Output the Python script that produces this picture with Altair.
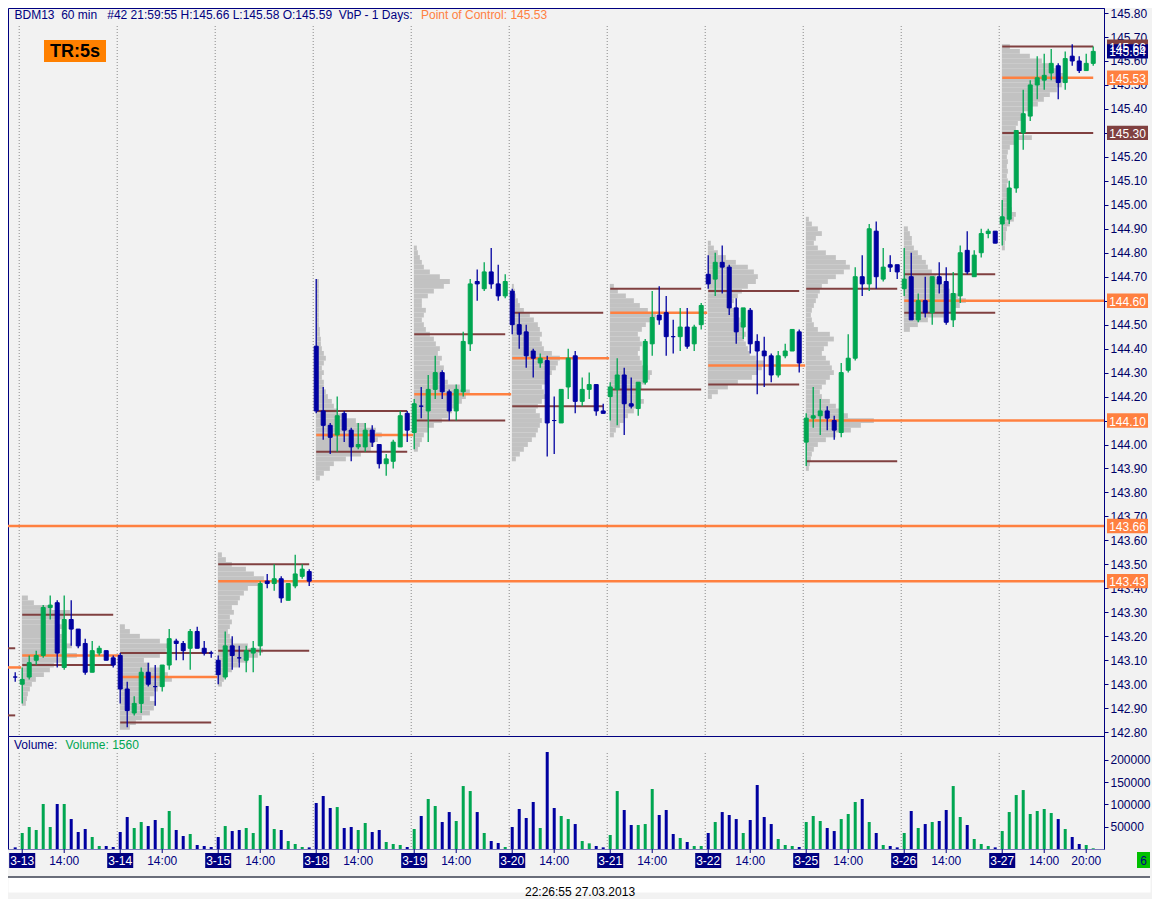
import altair as alt
import pandas as pd

FONT = "Liberation Sans"
UP = "#00A651"
DOWN = "#0000A0"
NAVY = "#000080"
ORANGE = "#FF8040"
BROWN = "#804040"
PROFILE_GREY = "#C2C2C2"
BG = "#F2F2F2"

# ---------------- data ----------------
DAYS = ["3-13", "3-14", "3-15", "3-18", "3-19", "3-20", "3-21", "3-22", "3-25", "3-26", "3-27"]

# last hourly bar of 3-12 (21:00)
PREV_BAR = dict(o=143.03, h=143.05, l=143.01, c=143.03, v=3700, d="d")

# 14 hourly bars per day, 08:00 ... 21:00
OPEN = [
    [143.00, 143.03, 143.10, 143.12, 143.32, 143.34, 143.07, 143.27, 143.23, 143.17, 143.05, 143.13, 143.14, 143.11],
    [143.12, 142.98, 142.88, 142.92, 143.05, 142.99, 142.99, 143.08, 143.18, 143.17, 143.15, 143.22, 143.15, 143.13],
    [143.10, 143.03, 143.16, 143.11, 143.10, 143.13, 143.16, 143.43, 143.42, 143.44, 143.35, 143.41, 143.45, 143.47],
    [144.41, 144.14, 144.08, 144.04, 144.13, 144.06, 143.99, 143.99, 144.06, 144.00, 143.92, 143.93, 143.99, 144.13],
    [144.05, 144.16, 144.14, 144.23, 144.30, 144.22, 144.14, 144.22, 144.42, 144.68, 144.65, 144.72, 144.67, 144.62],
    [144.64, 144.50, 144.47, 144.39, 144.34, 144.35, 144.10, 144.09, 144.24, 144.37, 144.18, 144.23, 144.25, 144.14],
    [144.20, 144.23, 144.29, 144.17, 144.15, 144.26, 144.42, 144.54, 144.55, 144.45, 144.45, 144.49, 144.42, 144.50],
    [144.71, 144.69, 144.76, 144.74, 144.57, 144.49, 144.56, 144.43, 144.39, 144.37, 144.29, 144.37, 144.39, 144.47],
    [144.01, 144.11, 144.12, 144.14, 144.10, 144.05, 144.31, 144.36, 144.70, 144.67, 144.89, 144.69, 144.75, 144.75],
    [144.65, 144.70, 144.52, 144.60, 144.55, 144.70, 144.68, 144.52, 144.62, 144.81, 144.70, 144.80, 144.88, 144.89],
    [144.92, 144.94, 145.07, 145.30, 145.37, 145.50, 145.52, 145.55, 145.58, 145.51, 145.62, 145.60, 145.56, 145.59],
]
HIGH = [
    [143.07, 143.12, 143.14, 143.33, 143.37, 143.35, 143.37, 143.35, 143.23, 143.19, 143.18, 143.16, 143.14, 143.12],
    [143.13, 143.01, 142.95, 143.07, 143.09, 143.08, 143.08, 143.23, 143.19, 143.18, 143.23, 143.24, 143.18, 143.14],
    [143.12, 143.22, 143.20, 143.16, 143.16, 143.18, 143.43, 143.46, 143.50, 143.45, 143.42, 143.54, 143.50, 143.48],
    [144.69, 144.24, 144.09, 144.20, 144.14, 144.07, 144.09, 144.09, 144.08, 144.00, 143.96, 144.02, 144.14, 144.14],
    [144.19, 144.24, 144.29, 144.37, 144.31, 144.23, 144.25, 144.47, 144.69, 144.73, 144.76, 144.82, 144.75, 144.71],
    [144.65, 144.55, 144.50, 144.40, 144.38, 144.37, 144.20, 144.23, 144.40, 144.39, 144.28, 144.30, 144.25, 144.17],
    [144.26, 144.36, 144.32, 144.28, 144.26, 144.44, 144.64, 144.66, 144.62, 144.52, 144.57, 144.57, 144.50, 144.59],
    [144.79, 144.80, 144.83, 144.75, 144.61, 144.57, 144.57, 144.46, 144.45, 144.38, 144.39, 144.42, 144.48, 144.48],
    [144.13, 144.24, 144.19, 144.16, 144.12, 144.34, 144.46, 144.74, 144.79, 144.92, 144.93, 144.82, 144.79, 144.75],
    [144.82, 144.80, 144.63, 144.70, 144.70, 144.76, 144.74, 144.72, 144.83, 144.89, 144.81, 144.90, 144.90, 144.89],
    [145.02, 145.10, 145.31, 145.48, 145.52, 145.62, 145.63, 145.65, 145.59, 145.64, 145.67, 145.62, 145.63, 145.66],
]
LOW = [
    [142.92, 143.02, 143.08, 143.11, 143.27, 143.07, 143.06, 143.16, 143.15, 143.04, 143.05, 143.12, 143.10, 143.07],
    [142.92, 142.82, 142.87, 142.88, 142.99, 142.91, 142.97, 143.06, 143.10, 143.10, 143.06, 143.15, 143.12, 143.11],
    [143.00, 143.02, 143.06, 143.07, 143.05, 143.05, 143.12, 143.40, 143.39, 143.34, 143.35, 143.40, 143.44, 143.41],
    [144.13, 144.02, 143.96, 143.97, 144.01, 143.93, 143.98, 143.97, 143.99, 143.90, 143.87, 143.90, 143.99, 144.01],
    [143.98, 144.11, 144.01, 144.19, 144.19, 144.10, 144.10, 144.20, 144.39, 144.60, 144.64, 144.65, 144.60, 144.61],
    [144.46, 144.40, 144.32, 144.28, 144.32, 143.95, 143.96, 144.09, 144.19, 144.13, 144.16, 144.19, 144.12, 144.13],
    [144.10, 144.08, 144.04, 144.15, 144.12, 144.25, 144.37, 144.50, 144.37, 144.38, 144.39, 144.40, 144.39, 144.48],
    [144.65, 144.62, 144.63, 144.54, 144.42, 144.44, 144.38, 144.21, 144.24, 144.26, 144.28, 144.36, 144.39, 144.30],
    [143.91, 144.07, 144.04, 144.06, 144.02, 144.03, 144.30, 144.35, 144.62, 144.64, 144.65, 144.68, 144.72, 144.69],
    [144.62, 144.52, 144.51, 144.53, 144.50, 144.63, 144.50, 144.49, 144.59, 144.71, 144.70, 144.78, 144.86, 144.84],
    [144.83, 144.92, 145.05, 145.23, 145.35, 145.44, 145.48, 145.52, 145.44, 145.48, 145.58, 145.55, 145.56, 145.58],
]
CLOSE = [
    [143.02, 143.09, 143.12, 143.32, 143.33, 143.13, 143.27, 143.23, 143.16, 143.05, 143.14, 143.15, 143.10, 143.08],
    [142.98, 142.89, 142.92, 143.05, 143.00, 142.99, 143.08, 143.19, 143.17, 143.14, 143.22, 143.15, 143.13, 143.13],
    [143.04, 143.16, 143.12, 143.11, 143.14, 143.15, 143.42, 143.42, 143.44, 143.36, 143.42, 143.46, 143.48, 143.43],
    [144.14, 144.08, 144.03, 144.12, 144.06, 143.99, 144.00, 144.06, 144.01, 143.92, 143.94, 144.01, 144.12, 144.06],
    [144.17, 144.16, 144.23, 144.30, 144.22, 144.14, 144.23, 144.43, 144.67, 144.67, 144.72, 144.67, 144.62, 144.68],
    [144.50, 144.46, 144.37, 144.36, 144.36, 144.09, 144.10, 144.23, 144.36, 144.18, 144.23, 144.25, 144.14, 144.13],
    [144.24, 144.29, 144.17, 144.16, 144.26, 144.43, 144.53, 144.52, 144.45, 144.45, 144.49, 144.41, 144.49, 144.58],
    [144.67, 144.76, 144.74, 144.57, 144.47, 144.57, 144.42, 144.39, 144.37, 144.29, 144.37, 144.39, 144.48, 144.34],
    [144.11, 144.12, 144.14, 144.11, 144.06, 144.30, 144.36, 144.70, 144.67, 144.90, 144.70, 144.74, 144.74, 144.72],
    [144.69, 144.52, 144.60, 144.55, 144.70, 144.67, 144.51, 144.63, 144.80, 144.72, 144.79, 144.88, 144.89, 144.84],
    [144.95, 145.07, 145.31, 145.38, 145.50, 145.53, 145.54, 145.59, 145.51, 145.61, 145.60, 145.56, 145.59, 145.64],
]
# u = up bar (green), d = down bar (blue)
DIRECTION = [
    "uuuuududdduudd", "dduudduudduddd", "dudduuududuuud", "dddudduudduuud",
    "uduudduuududdu", "ddddudduuduudd", "uudduuuddduduu", "dudddudddduuud",
    "uuudduuudududd", "udududduuduuud", "uuuuuuuududduu",
]
VOLUME = [
    [35900, 49300, 42600, 100900, 49300, 100900, 100900, 67200, 38100, 44800, 26900, 6700, 6700, 4500],
    [38100, 71700, 47100, 60500, 51500, 65000, 47100, 85200, 42600, 29100, 33600, 9000, 6700, 4500],
    [26900, 51500, 40300, 42600, 47100, 35900, 121000, 96400, 44800, 42600, 17900, 11200, 4500, 3700],
    [103100, 118800, 91900, 94100, 47100, 49300, 42600, 58300, 38100, 42600, 15700, 11200, 9000, 4500],
    [44800, 74000, 112100, 96400, 60500, 82900, 62800, 141200, 130000, 82900, 35900, 17900, 13400, 4500],
    [49300, 89700, 69500, 105400, 47100, 217500, 91900, 74000, 67200, 56000, 17900, 12700, 6700, 3700],
    [31400, 130000, 87400, 53800, 53800, 56000, 134500, 76200, 87400, 33600, 24700, 15700, 6700, 6700],
    [35900, 60500, 82900, 76200, 67200, 35900, 65000, 143500, 71700, 56000, 22400, 9000, 6700, 4500],
    [60500, 74000, 62800, 47100, 40300, 67200, 78500, 105400, 112100, 60500, 35900, 9000, 6700, 3700],
    [35900, 85200, 47100, 56000, 60500, 62800, 87400, 141200, 71700, 53800, 22400, 11200, 6700, 3700],
    [40300, 82900, 121000, 132200, 78500, 85200, 89700, 80700, 67200, 44800, 26900, 11200, 9000, 1560],
]

# volume-by-price: value-area high, point of control, value-area low per day
VAH = [143.29, 143.13, 143.50, 144.14, 144.46, 144.55, 144.65, 144.64, 144.65, 144.71, 145.66]
POC = [143.12, 143.03, 143.43, 144.04, 144.21, 144.36, 144.55, 144.33, 144.10, 144.60, 145.53]
VAL = [143.08, 142.84, 143.14, 143.97, 144.10, 144.16, 144.23, 144.25, 143.93, 144.55, 145.30]
PREV_DAY_LEVELS = [143.15, 143.07, 142.87]   # 3-12 VAH, POC, VAL
OLDER_NAKED_POC = 143.66
NAKED_POC_DAYS = ["3-15", "3-25", "3-26"]

PROFILE_STEP = 0.02
PROFILE_LOW = [142.92, 142.82, 143.00, 143.86, 143.98, 143.94, 144.04, 144.20, 143.90, 144.48, 144.82]
PROFILE = [
    [4, 5, 6, 8, 10, 14, 22, 28, 32, 40, 55, 45, 50, 42, 40, 38, 40, 36, 42, 48, 30, 12, 6],
    [10, 16, 22, 30, 34, 36, 30, 34, 38, 44, 52, 48, 40, 30, 24, 40, 46, 50, 40, 20, 10, 5],
    [4, 6, 10, 14, 20, 30, 40, 45, 30, 15, 12, 10, 12, 14, 12, 16, 14, 20, 22, 26, 30, 40, 46, 36, 28, 14, 8, 4],
    [4, 8, 14, 18, 30, 45, 55, 58, 62, 66, 60, 50, 40, 28, 22, 18, 16, 12, 10, 8, 8, 6, 8, 6, 8, 10, 8, 6, 5, 5,
     4, 4, 3, 3, 3, 3, 3, 3, 3, 3, 3, 3],
    [4, 6, 8, 10, 14, 20, 28, 34, 38, 44, 48, 52, 56, 46, 34, 30, 28, 30, 26, 28, 24, 26, 22, 20, 16, 12, 10, 8,
     10, 12, 8, 8, 14, 20, 30, 36, 26, 16, 10, 8, 6, 4, 3],
    [4, 8, 12, 16, 20, 24, 26, 28, 30, 28, 24, 26, 30, 34, 32, 30, 34, 36, 40, 44, 46, 48, 40, 32, 30, 28, 30, 28,
     26, 22, 18, 12, 8, 6, 4, 3, 2],
    [4, 6, 10, 14, 18, 24, 30, 34, 30, 28, 32, 36, 40, 42, 38, 32, 30, 28, 30, 32, 30, 28, 32, 36, 40, 46, 38, 30,
     24, 16, 8, 4],
    [4, 10, 20, 30, 44, 50, 54, 56, 48, 42, 40, 38, 36, 38, 36, 34, 32, 30, 28, 24, 26, 30, 34, 40, 48, 50, 46, 40,
     28, 18, 10, 6, 3],
    [3, 4, 5, 6, 8, 12, 20, 30, 45, 55, 68, 42, 34, 30, 24, 16, 14, 16, 20, 24, 28, 26, 24, 20, 16, 18, 22, 28, 24,
     12, 8, 6, 5, 6, 8, 10, 12, 14, 16, 22, 30, 38, 44, 40, 30, 20, 12, 8, 10, 16, 12, 6, 3],
    [6, 14, 24, 40, 50, 56, 62, 54, 46, 42, 38, 32, 28, 24, 22, 18, 14, 10, 8, 8, 6, 4],
    [3, 3, 4, 4, 5, 8, 12, 14, 10, 8, 6, 8, 6, 5, 6, 5, 6, 5, 6, 5, 6, 8, 14, 30, 12, 14, 16, 20, 22, 30, 36, 42,
     48, 55, 60, 62, 64, 56, 50, 40, 28, 18, 8],
]
PROFILE_PER_BAR = 7.0   # profile volume units per bar slot

AXIS_MARKERS = [
    (145.66, "145.66", BROWN), (145.64, "145.64", NAVY), (145.53, "145.53", ORANGE),
    (145.30, "145.30", BROWN), (144.60, "144.60", ORANGE), (144.10, "144.10", ORANGE),
    (143.66, "143.66", ORANGE), (143.43, "143.43", ORANGE),
]
PRICE_TICKS = [round(142.8 + 0.1 * k, 2) for k in range(31)]
VOLUME_TICKS = [50000, 100000, 150000, 200000]
HEADER = "BDM13\u00a0\u00a060 min\u00a0\u00a0\u00a0#42 21:59:55 H:145.66 L:145.58 O:145.59\u00a0\u00a0VbP - 1 Days:"
HEADER_POC = "Point of Control: 145.53"
LAST_VOLUME_TEXT = "Volume: 1560"
FOOTER = "22:26:55 27.03.2013"

# ---------------- tables ----------------
bars = [dict(i=0, o=PREV_BAR["o"], h=PREV_BAR["h"], l=PREV_BAR["l"], c=PREV_BAR["c"],
             v=PREV_BAR["v"], col=UP if PREV_BAR["d"] == "u" else DOWN)]
for d in range(len(DAYS)):
    for j in range(14):
        bars.append(dict(i=1 + 14 * d + j, o=OPEN[d][j], h=HIGH[d][j], l=LOW[d][j], c=CLOSE[d][j],
                         v=VOLUME[d][j], col=UP if DIRECTION[d][j] == "u" else DOWN))
bars = pd.DataFrame(bars)

XMIN, XMAX = -1.03, 155.54
prof = []
for d in range(len(DAYS)):
    i0 = 1 + 14 * d
    for k, val in enumerate(PROFILE[d]):
        p = PROFILE_LOW[d] + k * PROFILE_STEP
        prof.append(dict(x0=i0 - 0.05, x1=i0 - 0.05 + val / PROFILE_PER_BAR,
                         plo=p - PROFILE_STEP / 2, phi=p + PROFILE_STEP / 2))
prof = pd.DataFrame(prof)

lines = [
    dict(xs=XMIN, xe=0, p=PREV_DAY_LEVELS[0], col=BROWN, w=2),
    dict(xs=XMIN, xe=0.85, p=PREV_DAY_LEVELS[1], col=ORANGE, w=2.5),
    dict(xs=XMIN, xe=0, p=PREV_DAY_LEVELS[2], col=BROWN, w=2),
    dict(xs=XMIN, xe=XMAX, p=OLDER_NAKED_POC, col=ORANGE, w=2.5),
]
for d, day in enumerate(DAYS):
    i0 = 1 + 14 * d
    lines.append(dict(xs=i0, xe=i0 + 13, p=VAH[d], col=BROWN, w=2))
    lines.append(dict(xs=i0, xe=i0 + 13, p=VAL[d], col=BROWN, w=2))
    end = XMAX if day in NAKED_POC_DAYS else (i0 + 13 if d == len(DAYS) - 1 else i0 + 13.85)
    lines.append(dict(xs=i0, xe=end, p=POC[d], col=ORANGE, w=2.5))
lines = pd.DataFrame(lines)

seps = pd.DataFrame({"xs": [1 + 14 * d - 0.43 for d in range(len(DAYS))]})
markers = pd.DataFrame(AXIS_MARKERS, columns=["p", "label", "col"])

date_lab = pd.DataFrame({"x": [1 + 14 * d for d in range(len(DAYS))], "t": DAYS})
date_lab["a"] = date_lab["x"] - 1.86
date_lab["b"] = date_lab["x"] + 1.86
time_lab = pd.DataFrame({"x": [1 + 14 * d + 6 for d in range(len(DAYS))] + [1 + 14 * 10 + 12],
                         "t": ["14:00"] * len(DAYS) + ["20:00"]})
ticks = pd.DataFrame({"x": list(date_lab["x"]) + list(time_lab["x"])})

# ---------------- chart ----------------
W = 1096
H_MAIN = 728
H_VOL = 113
H_LAB = 28
H_FOOT = 15
FULL_W = 1142

xs = alt.Scale(domain=[XMIN, XMAX], nice=False, zero=False, padding=0)
ys = alt.Scale(domain=[142.784, 145.821], nice=False, zero=False, padding=0)
vs = alt.Scale(domain=[0, 253400], nice=False, zero=True, padding=0)


def X(f):
    return alt.X(f, type="quantitative", scale=xs, axis=None)


price_axis = alt.Axis(orient="right", values=PRICE_TICKS, format=".2f", title=None, grid=False,
                      domainColor=NAVY, tickColor=NAVY, labelColor="#000066", labelFont=FONT,
                      labelFontSize=12, tickSize=4, labelPadding=2, labelOverlap=False,
                      labelFlush=False, labelBound=False)
vol_axis = alt.Axis(orient="right", values=VOLUME_TICKS, format="d", title=None, grid=False,
                    domainColor=NAVY, tickColor=NAVY, labelColor="#000066", labelFont=FONT,
                    labelFontSize=12, tickSize=4, labelPadding=2, labelOverlap=False,
                    labelFlush=False, labelBound=False)


def Y(f):
    return alt.Y(f, type="quantitative", scale=ys, axis=price_axis)


profile_layer = alt.Chart(prof).mark_rect(color=PROFILE_GREY).encode(
    x=X("x0"), x2="x1:Q", y=Y("plo"), y2="phi:Q")
sep_main = alt.Chart(seps).mark_rule(color="#8A8A8A", strokeDash=[1, 2], strokeWidth=1).encode(
    x=X("xs"), y=alt.value(18), y2=alt.value(H_MAIN))
line_layer = alt.Chart(lines).mark_rule().encode(
    x=X("xs"), x2="xe:Q", y=Y("p"),
    color=alt.Color("col:N", scale=None), strokeWidth=alt.StrokeWidth("w:Q", scale=None))
wicks = alt.Chart(bars).mark_rule(strokeWidth=1.3).encode(
    x=X("i"), y=Y("l"), y2="h:Q", color=alt.Color("col:N", scale=None))
bodies = alt.Chart(bars).mark_bar(width=4, strokeWidth=1, orient="vertical").encode(
    x=X("i"), y=Y("o"), y2="c:Q", fill=alt.Color("col:N", scale=None),
    stroke=alt.Color("col:N", scale=None))
marker_boxes = alt.Chart(markers).transform_calculate(
    lo="datum.p - 0.030", hi="datum.p + 0.030").mark_rect().encode(
    x=alt.value(W + 3), x2=alt.value(W + 44), y=Y("lo:Q"), y2="hi:Q",
    color=alt.Color("col:N", scale=None))
marker_text = alt.Chart(markers).mark_text(font=FONT, fontSize=12, color="white", align="center",
                                           baseline="middle", dy=1).encode(
    x=alt.value(W + 23.5), y=Y("p"), text="label:N")
header = alt.Chart(pd.DataFrame({"t": [HEADER]})).mark_text(
    font=FONT, fontSize=12, color=NAVY, align="left", baseline="middle").encode(
    x=alt.value(6.5), y=alt.value(7), text="t:N")
header_poc = alt.Chart(pd.DataFrame({"t": [HEADER_POC]})).mark_text(
    font=FONT, fontSize=12, color=ORANGE, align="left", baseline="middle").encode(
    x=alt.value(413), y=alt.value(7), text="t:N")
tr_box = alt.Chart(pd.DataFrame({"t": ["TR:5s"]})).mark_rect(color="#FF8000").encode(
    x=alt.value(36), x2=alt.value(98), y=alt.value(32), y2=alt.value(54))
tr_text = alt.Chart(pd.DataFrame({"t": ["TR:5s"]})).mark_text(
    font=FONT, fontSize=18, fontWeight="bold", color="black", align="center", baseline="middle").encode(
    x=alt.value(67), y=alt.value(44), text="t:N")

main = alt.layer(profile_layer, sep_main, line_layer, wicks, bodies, marker_boxes, marker_text,
                 header, header_poc, tr_box, tr_text).properties(
    width=W, height=H_MAIN, view=alt.ViewBackground(fill=BG, stroke=NAVY, strokeWidth=1))

sep_vol = alt.Chart(seps).mark_rule(color="#8A8A8A", strokeDash=[1, 2], strokeWidth=1).encode(
    x=X("xs"), y=alt.value(17), y2=alt.value(H_VOL))
vol_bars = alt.Chart(bars).mark_bar(width=3, orient="vertical").encode(
    x=X("i"), y=alt.Y("v:Q", scale=vs, axis=vol_axis), color=alt.Color("col:N", scale=None))
vol_t1 = alt.Chart(pd.DataFrame({"t": ["Volume:"]})).mark_text(
    font=FONT, fontSize=12, color=NAVY, align="left", baseline="middle").encode(
    x=alt.value(6), y=alt.value(9), text="t:N")
vol_t2 = alt.Chart(pd.DataFrame({"t": [LAST_VOLUME_TEXT]})).mark_text(
    font=FONT, fontSize=12, color=UP, align="left", baseline="middle").encode(
    x=alt.value(57.5), y=alt.value(9), text="t:N")
volume = alt.layer(sep_vol, vol_bars, vol_t1, vol_t2).properties(
    width=W, height=H_VOL, view=alt.ViewBackground(fill=BG, stroke=NAVY, strokeWidth=1))

tick_l = alt.Chart(ticks).mark_rule(color=NAVY, strokeWidth=1).encode(
    x=X("x"), y=alt.value(0), y2=alt.value(4))
date_box = alt.Chart(date_lab).mark_rect(color=NAVY).encode(
    x=X("a"), x2="b:Q", y=alt.value(4), y2=alt.value(19))
date_txt = alt.Chart(date_lab).mark_text(font=FONT, fontSize=12, color="white", align="center",
                                         baseline="middle").encode(
    x=X("x"), y=alt.value(12), text="t:N")
time_txt = alt.Chart(time_lab).mark_text(font=FONT, fontSize=12, color=NAVY, align="center",
                                         baseline="middle").encode(
    x=X("x"), y=alt.value(12), text="t:N")
six_box = alt.Chart(pd.DataFrame({"t": ["6"]})).mark_rect(color="#00C000").encode(
    x=alt.value(W + 33), x2=alt.value(W + 46), y=alt.value(3), y2=alt.value(19))
six_txt = alt.Chart(pd.DataFrame({"t": ["6"]})).mark_text(
    font=FONT, fontSize=12, color=NAVY, align="center", baseline="middle").encode(
    x=alt.value(W + 39.5), y=alt.value(12), text="t:N")
labels = alt.layer(tick_l, date_box, date_txt, time_txt, six_box, six_txt).properties(
    width=W, height=H_LAB, view=alt.ViewBackground(fill=BG, stroke="transparent"))

foot_line = alt.Chart(pd.DataFrame({"t": [FOOTER]})).mark_rule(color="#3A3F4F", strokeWidth=1.5).encode(
    x=alt.value(0), x2=alt.value(FULL_W), y=alt.value(0))
foot_txt = alt.Chart(pd.DataFrame({"t": [FOOTER]})).mark_text(
    font=FONT, fontSize=12, color="black", align="center", baseline="middle").encode(
    x=alt.value(572), y=alt.value(15), text="t:N")
footer = alt.layer(foot_line, foot_txt).properties(
    width=FULL_W, height=H_FOOT, view=alt.ViewBackground(fill="white", stroke="transparent"))

chart = alt.vconcat(main, volume, labels, footer, spacing=0, bounds="flush").properties(
    padding={"left": -2, "top": -2, "right": 0, "bottom": 0}
).configure(background=BG)

chart.save("out.html", embed_options={"renderer": "svg", "actions": False})
